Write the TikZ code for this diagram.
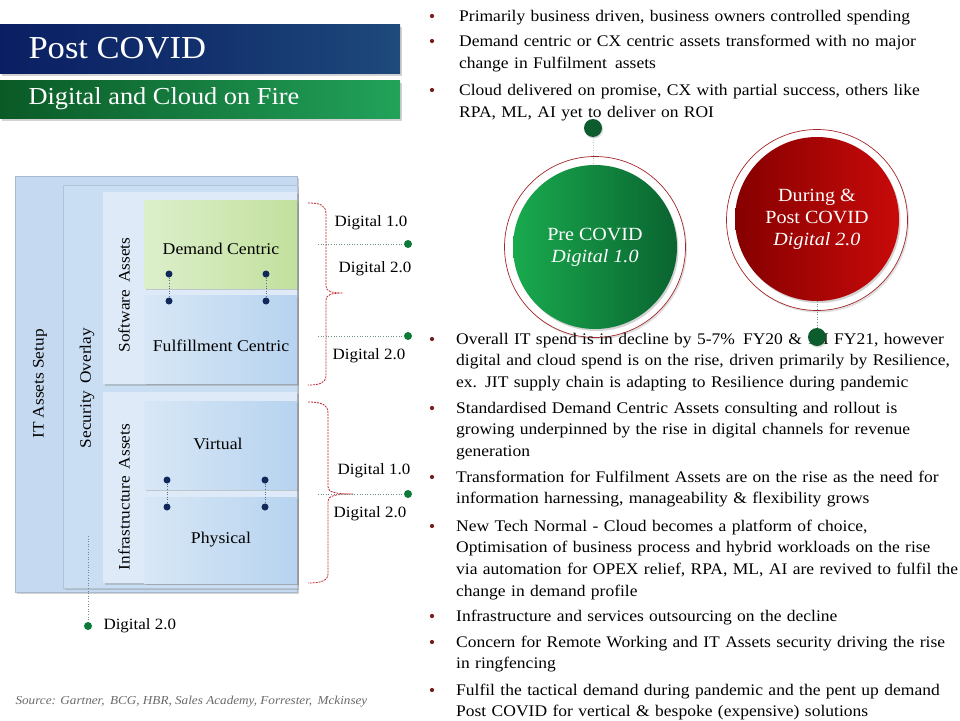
\documentclass[tikz,border=0pt]{standalone}
\usepackage{fontspec}
\setmainfont{Liberation Serif}[FakeStretch=1.08]
\usetikzlibrary{shadows,calc}
\definecolor{navyL}{HTML}{0A1F63}
\definecolor{navyR}{HTML}{1E4A7C}
\definecolor{grnL}{HTML}{0A5A26}
\definecolor{grnR}{HTML}{22A25A}
\definecolor{outerBox}{HTML}{C5DAF0}
\definecolor{secBox}{HTML}{CADEF3}
\definecolor{swBox}{HTML}{DEEAF7}
\definecolor{dcL}{HTML}{DCEFCB}
\definecolor{dcR}{HTML}{C2E09D}
\definecolor{blL}{HTML}{D8E7F6}
\definecolor{blR}{HTML}{B7D3EF}
\definecolor{navyDot}{HTML}{10285A}
\definecolor{gDot}{HTML}{0E7A3A}
\definecolor{bigDot}{HTML}{0D5C2E}
\definecolor{braceRed}{HTML}{C0282D}
\definecolor{bulRed}{HTML}{7B1C1C}
\definecolor{cgL}{HTML}{19AA4E}
\definecolor{cgR}{HTML}{0A6430}
\definecolor{crL}{HTML}{860000}
\definecolor{crR}{HTML}{C80A0A}
\definecolor{ringRed}{HTML}{A3262A}
\definecolor{dotLine}{HTML}{6E8F86}
\definecolor{srcGray}{HTML}{6A6A6A}
\begin{document}
\begin{tikzpicture}[x=1pt,y=-1pt,
  panel/.style={rectangle, inner sep=0, anchor=north west,
    drop shadow={shadow xshift=1.5pt, shadow yshift=-2pt, opacity=0.35}},
  titlebar/.style={rectangle, inner sep=0, anchor=north west,
    drop shadow={shadow xshift=2pt, shadow yshift=-2.5pt, opacity=0.35}},
  vlabel/.style={rotate=90, font={\fontsize{16}{18}\selectfont}, text=black},
  boxlabel/.style={font={\fontsize{16.4}{18}\selectfont}, text=black},
  diglabel/.style={font={\fontsize{15.7}{18}\selectfont}, text=black},
  ndot/.style={circle, fill=navyDot, inner sep=0, minimum size=7},
  gdot/.style={circle, fill=gDot, inner sep=0, minimum size=8},
  bigdot/.style={circle, fill=bigDot, inner sep=0, minimum size=18,
    drop shadow={shadow xshift=1pt, shadow yshift=-1.5pt, opacity=0.3}},
  dotconn/.style={draw=dotLine, dotted, line width=0.6pt},
  ndconn/.style={draw=navyDot!70, dotted, line width=0.6pt},
  bracepath/.style={draw=braceRed, dashed, dash pattern=on 2pt off 1pt, line width=0.8pt},
  bulletdot/.style={fill=bulRed},
  toptext/.style={anchor=base west, inner sep=0, text width=500pt, align=left,
    font={\fontsize{16.2}{22}\selectfont}},
  bottext/.style={anchor=base west, inner sep=0, text width=510pt, align=left,
    font={\fontsize{16.2}{21.7}\selectfont}},
  ringc/.style={circle, draw=ringRed, line width=0.7pt, fill=white, inner sep=0,
    drop shadow={shadow xshift=1.5pt, shadow yshift=-2pt, opacity=0.25}},
  circtext/.style={circle, inner sep=0, text=white, align=center,
    font={\fontsize{18.6}{22}\selectfont},
    drop shadow={shadow xshift=1.5pt, shadow yshift=-2pt, opacity=0.35}}
]
\useasboundingbox (0,0) rectangle (960,720);
\fill[white] (0,0) rectangle (960,720);

% ---------- title bars ----------
\node[titlebar, minimum width=400, minimum height=49, left color=navyL, right color=navyR,
  middle color=navyL!60!navyR] (tbar) at (0,24) {};
\node[anchor=west, text=white, font={\fontsize{32}{36}\selectfont}] (ttext) at (25,48.5) {Post COVID};
\node[titlebar, minimum width=400, minimum height=38, left color=grnL, right color=grnR] (gbar) at (0,80) {};
\node[anchor=west, text=white, font={\fontsize{24.4}{26}\selectfont}] (gtext) at (25,99) {Digital and Cloud on Fire};

% ---------- left layered diagram ----------
\node[panel, minimum width=282, minimum height=416, fill=outerBox, draw=outerBox!85!black, line width=0.4pt] (outer) at (15,176) {};
\node[panel, minimum width=234, minimum height=403, fill=secBox, draw=secBox!88!black, line width=0.4pt] (sec) at (63,185) {};
\node[panel, minimum width=194, minimum height=192, fill=swBox] (sw) at (103,192) {};
\node[panel, minimum width=194, minimum height=191, fill=swBox] (inf) at (103,392) {};
\node[panel, minimum width=153, minimum height=88, left color=dcL, right color=dcR] (dem) at (144,200) {};
\node[panel, minimum width=153, minimum height=88, left color=blL, right color=blR] (ful) at (144,295) {};
\node[panel, minimum width=153, minimum height=88, left color=blL, right color=blR] (vir) at (144,401) {};
\node[panel, minimum width=153, minimum height=86, left color=blL, right color=blR] (phy) at (144,497) {};

\node[vlabel] (lit) at (40,384) {IT Assets Setup};
\node[vlabel] (lsec) at (87,388) {Security\, Overlay};
\node[vlabel] (lsw) at (124,295) {Software\, Assets};
\node[vlabel] (linf) at (124,497) {Infrastructure\, Assets};

\node[boxlabel] (tdem) at (221,249) {Demand Centric};
\node[boxlabel] (tful) at (221,346) {Fulfillment Centric};
\node[boxlabel] (tvir) at (218,444) {Virtual};
\node[boxlabel] (tphy) at (221,540) {Physical};

% navy dots
\node[ndot] (n1) at (169,274) {};
\node[ndot] (n2) at (266,274) {};
\node[ndot] (n3) at (169,301) {};
\node[ndot] (n4) at (266,301) {};
\node[ndot] (n5) at (167,480) {};
\node[ndot] (n6) at (265,480) {};
\node[ndot] (n7) at (167,507) {};
\node[ndot] (n8) at (265,507) {};
\draw[ndconn] (n1) -- (n3);
\draw[ndconn] (n2) -- (n4);
\draw[ndconn] (n5) -- (n7);
\draw[ndconn] (n6) -- (n8);

% braces
\draw[bracepath] (308,203) .. controls (320,203) and (326,205) .. (326,214)
  -- (326,286) .. controls (326,291) and (331,293) .. (343,293)
  .. controls (331,293) and (326,295) .. (326,300)
  -- (326,375) .. controls (326,383) and (320,385) .. (308,385);
\draw[bracepath] (308,402) .. controls (320,402) and (328,404) .. (328,413)
  -- (328,487) .. controls (328,492) and (335,494) .. (353,494)
  .. controls (335,494) and (328,496) .. (328,501)
  -- (328,574) .. controls (328,581) and (320,583) .. (308,583);

% green dots and dotted leaders
\coordinate (c1) at (318,244);
\coordinate (c2) at (318,336);
\coordinate (c3) at (318,494);
\coordinate (c4) at (88,536);
\node[gdot] (g1) at (408,244) {};
\node[gdot] (g2) at (408,336) {};
\node[gdot] (g3) at (408,494) {};
\node[gdot] (g4) at (88,626) {};
\draw[dotconn] (c1) -- (g1);
\draw[dotconn] (c2) -- (g2);
\draw[dotconn] (c3) -- (g3);
\draw[dotconn] (c4) -- (g4);

\node[diglabel] (d1) at (371,223) {Digital 1.0};
\node[diglabel] (d2) at (375,269) {Digital 2.0};
\node[diglabel] (d3) at (369,356) {Digital 2.0};
\node[diglabel] (d4) at (374,471) {Digital 1.0};
\node[diglabel] (d5) at (370,514) {Digital 2.0};
\node[diglabel, anchor=west] (d6) at (100,626) {Digital 2.0};

\node[anchor=west, text=srcGray, font={\itshape\fontsize{12.2}{14}\selectfont}] (src) at (12,702)
  {Source: Gartner,\, BCG, HBR, Sales Academy, Forrester,\, Mckinsey};

% ---------- circles ----------
\node[ringc, minimum size=181] (prering) at (595,247) {};
\node[circtext, minimum size=164, left color=cgL, right color=cgR] (pre) at (595,247)
  {Pre COVID\\\textit{Digital 1.0}};
\node[ringc, minimum size=181] (postring) at (817,220) {};
\node[circtext, minimum size=164, left color=crL, right color=crR] (post) at (817,219)
  {During \&\\Post COVID\\\textit{Digital 2.0}};

% ---------- bullets ----------
\foreach \yy in {16,41,90,339,408,477,526,616,642,690} {\fill[bulletdot] (432,\yy) circle (2.1);}

\node[toptext] (t1) at (459,21) {Primarily business driven, business owners controlled spending};
\node[toptext] (t2) at (459,46) {Demand centric or CX centric assets transformed with no major\\change in Fulfilment\, assets};
\node[toptext] (t3) at (459,95) {Cloud delivered on promise, CX with partial success, others like\\RPA, ML, AI yet to deliver on ROI};

\node[bottext] (b1) at (456,344) {Overall IT spend is in decline by 5-7\%\, FY20 \& 1H FY21, however\\digital and cloud spend is on the rise, driven primarily by Resilience,\\ex. JIT supply chain is adapting to Resilience during pandemic};
\node[bottext] (b2) at (456,413) {Standardised Demand Centric Assets consulting and rollout is\\growing underpinned by the rise in digital channels for revenue\\generation};
\node[bottext] (b3) at (456,482) {Transformation for Fulfilment Assets are on the rise as the need for\\information harnessing, manageability \& flexibility grows};
\node[bottext] (b4) at (456,531) {New Tech Normal - Cloud becomes a platform of choice,\\Optimisation of business process and hybrid workloads on the rise\\via automation for OPEX relief, RPA, ML, AI are revived to fulfil the\\change in demand profile};
\node[bottext] (b5) at (456,621) {Infrastructure and services outsourcing on the decline};
\node[bottext] (b6) at (456,647) {Concern for Remote Working and IT Assets security driving the rise\\in ringfencing};
\node[bottext] (b7) at (456,695) {Fulfil the tactical demand during pandemic and the pent up demand\\Post COVID for vertical \& bespoke (expensive) solutions};

% big dots with connectors
\node[bigdot] (bd1) at (593,128) {};
\node[bigdot] (bd2) at (817,337) {};
\draw[dotconn] (bd1) -- (pre);
\draw[dotconn] (post) -- (bd2);
\end{tikzpicture}
\end{document}
